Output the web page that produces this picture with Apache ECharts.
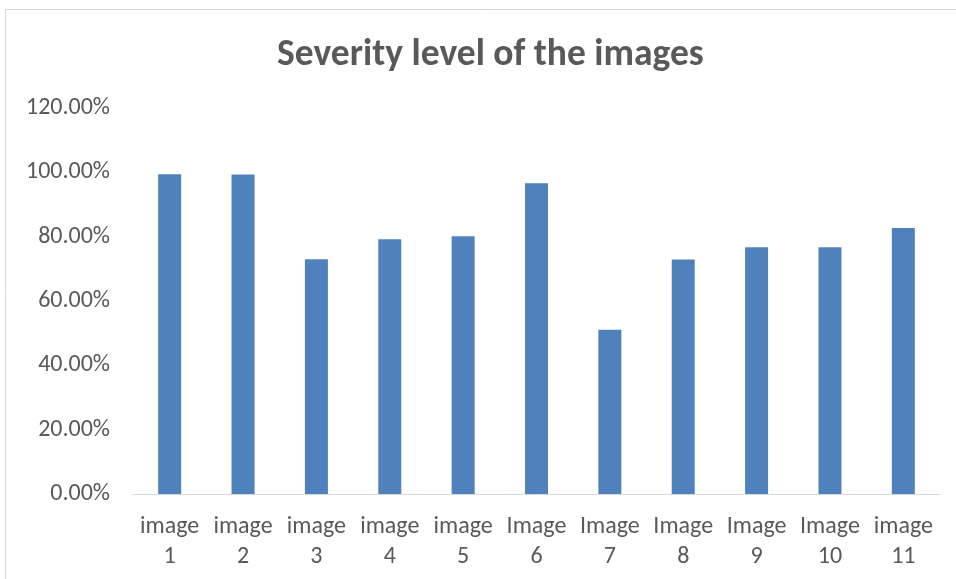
<!DOCTYPE html>
<html>
<head>
<meta charset="utf-8">
<script src="https://cdn.jsdelivr.net/npm/echarts@6/dist/echarts.min.js"></script>
<style>
  html, body { margin: 0; padding: 0; background: #fff; }
  #chart { width: 956px; height: 579px; }
</style>
</head>
<body>
<div id="chart"></div>
<script>
// Severity level per image (fraction, shown as percentage)
const categories = ['image\n1', 'image\n2', 'image\n3', 'image\n4', 'image\n5', 'Image\n6',
                    'Image\n7', 'Image\n8', 'Image\n9', 'Image\n10', 'image\n11'];
const severity = [0.994, 0.993, 0.730, 0.792, 0.801, 0.966, 0.511, 0.729, 0.767, 0.767, 0.827];
const yTicks = { min: 0, max: 1.2, interval: 0.2 };

const chart = echarts.init(document.getElementById('chart'));
const textColor = '#595959';
const font = "Carlito, 'Open Sans', 'Liberation Sans', sans-serif";

chart.setOption({
  backgroundColor: '#ffffff',
  animation: false,
  title: {
    text: 'Severity level of the images',
    left: 272,
    top: 32,
    textStyle: { color: textColor, fontSize: 37.5, fontWeight: 'bold', fontFamily: font }
  },
  graphic: [{
    type: 'rect',
    shape: { x: 5.5, y: 9.5, width: 1000, height: 1000 },
    style: { fill: 'none', stroke: '#d9d9d9', lineWidth: 1 },
    silent: true
  }],
  grid: { left: 133, right: 16, top: 108, bottom: 85 },
  xAxis: {
    type: 'category',
    data: categories,
    axisLine: { show: true, lineStyle: { color: '#d9d9d9', width: 1 } },
    axisTick: { show: false },
    axisLabel: {
      color: textColor, fontSize: 24, fontFamily: font,
      lineHeight: 30, margin: 18, interval: 0
    }
  },
  yAxis: {
    type: 'value',
    min: yTicks.min, max: yTicks.max, interval: yTicks.interval,
    axisLine: { show: false },
    axisTick: { show: false },
    splitLine: { show: false },
    axisLabel: {
      color: textColor, fontSize: 24, fontFamily: font, margin: 23,
      formatter: v => (v * 100).toFixed(2) + '%'
    }
  },
  series: [{
    type: 'bar',
    data: severity,
    barWidth: 23,
    itemStyle: { color: '#4f81bd' }
  }]
});
</script>
</body>
</html>
